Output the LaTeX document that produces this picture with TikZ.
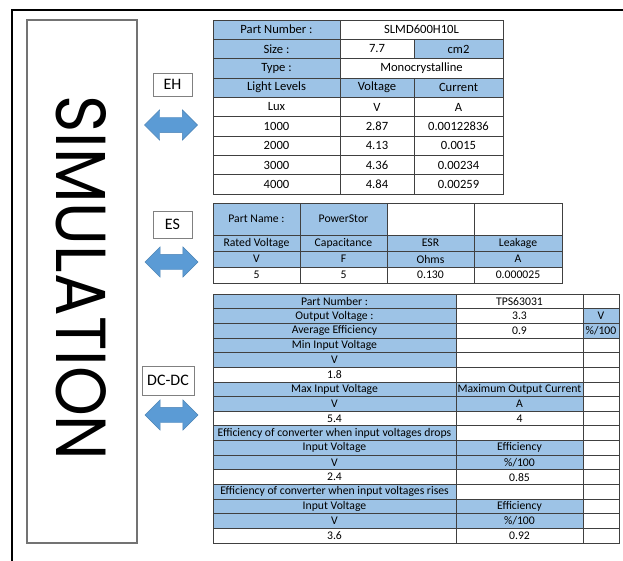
\documentclass[tikz,border=0pt]{standalone}
\usepackage{fontspec}
\setmainfont{Carlito}
\newfontfamily\simfont{Poppins}
\usepackage{graphicx}
\usetikzlibrary{shapes.arrows}
\definecolor{cellblue}{HTML}{9DC3E6}
\definecolor{arrowblue}{HTML}{5B9BD5}
\def\cellfont{11.7}
\tikzset{
  cell/.style={draw=black!75,line width=0.8pt,inner sep=0pt,outer sep=0pt,
               font=\fontsize{\cellfont}{12}\selectfont},
  tag/.style={draw=black!50,line width=0.8pt,fill=white,inner sep=0pt,
              font=\fontsize{16}{18}\selectfont},
  dblarrow/.style={double arrow,fill=arrowblue,draw=arrowblue!85!black,line width=0.4pt,
              minimum height=53pt,minimum width=30pt,double arrow head extend=7.5pt,
              inner xsep=0pt,inner ysep=7.5pt}
}
% one table cell: name, left x, right x, row, fill, text
\newcommand{\tcell}[6]{%
  \node[cell,fill=#5,minimum width={(#3-#2)*1pt},minimum height={\rowh*1pt}]
    (#1) at ({(#2+#3)/2},{\rowtop+(#4-0.5)*\rowh}) {#6};}

\begin{document}
\begin{tikzpicture}[x=1pt,y=-1pt]
    \useasboundingbox (0,0) rectangle (623,561);
    \draw[line width=2.5pt] (12,561) -- (12,10) -- (623,10);
    % simulation block
    \node[draw=black!55,line width=1.2pt,minimum width=110pt,minimum height=523pt,inner sep=0pt] (simbox) at (82,281.5) {};
    \node[rotate=-90,inner sep=0pt] (simtext) at (81,278) {\simfont\resizebox{365pt}{50pt}{SIMULATION}};
    % tags and arrows
    \node[tag,minimum width=39pt,minimum height=23pt] (eh) at (172.5,84.5) {EH};
    \node[tag,minimum width=39pt,minimum height=27pt] (es) at (172.5,224.5) {ES};
    \node[tag,minimum width=52pt,minimum height=29pt] (dcdc) at (168,380.5) {DC-DC};
    \node[dblarrow] (eharrow) at (171,125) {};
    \node[dblarrow] (esarrow) at (171.5,262) {};
    \node[dblarrow] (dcarrow) at (171.5,415) {};
    % EH table
    \def\rowtop{20}\def\rowh{19.33}\def\cellfont{12.6}
    \tcell{eh-a1}{213}{340}{1}{cellblue}{Part Number :}
    \tcell{eh-b1}{340}{503}{1}{white}{SLMD600H10L}
    \tcell{eh-a2}{213}{340}{2}{cellblue}{Size :}
    \tcell{eh-b2}{340}{414}{2}{white}{7.7}
    \tcell{eh-c2}{414}{503}{2}{cellblue}{cm2}
    \tcell{eh-a3}{213}{340}{3}{cellblue}{Type :}
    \tcell{eh-b3}{340}{503}{3}{white}{Monocrystalline}
    \foreach \r/\f/\a/\b/\c in {4/cellblue/Light Levels/Voltage/Current,
        5/white/Lux/V/A, 6/white/1000/2.87/0.00122836, 7/white/2000/4.13/0.0015,
        8/white/3000/4.36/0.00234, 9/white/4000/4.84/0.00259} {
      \tcell{eh-a\r}{213}{340}{\r}{\f}{\a}
      \tcell{eh-b\r}{340}{414}{\r}{\f}{\b}
      \tcell{eh-c\r}{414}{503}{\r}{\f}{\c}
    }
    % ES table
    \def\rowtop{203}\def\rowh{32}\def\cellfont{11.7}
    \tcell{es-a1}{213}{300}{1}{cellblue}{Part Name :}
    \tcell{es-b1}{300}{387}{1}{cellblue}{PowerStor}
    \tcell{es-c1}{387}{474}{1}{white}{}
    \tcell{es-d1}{474}{562}{1}{white}{}
    \def\rowtop{235}\def\rowh{16}
    \foreach \r/\f/\a/\b/\c/\d in {1/cellblue/Rated Voltage/Capacitance/ESR/Leakage,
        2/cellblue/V/F/Ohms/A, 3/white/5/5/0.130/0.000025} {
      \tcell{es-a\r}{213}{300}{\r}{\f}{\a}
      \tcell{es-b\r}{300}{387}{\r}{\f}{\b}
      \tcell{es-c\r}{387}{474}{\r}{\f}{\c}
      \tcell{es-d\r}{474}{562}{\r}{\f}{\d}
    }
    % DC-DC table
    \def\rowtop{294}\def\rowh{14.65}
    \foreach \r/\fa/\a/\fb/\b/\fc/\c in {
        1/cellblue/Part Number :/white/TPS63031/white/{},
        2/cellblue/Output Voltage :/white/3.3/cellblue/V,
        3/cellblue/Average Efficiency/white/0.9/cellblue/{\%/100},
        4/cellblue/Min Input Voltage/white/{}/white/{},
        5/cellblue/V/white/{}/white/{},
        6/white/1.8/white/{}/white/{},
        7/cellblue/Max Input Voltage/cellblue/Maximum Output Current/white/{},
        8/cellblue/V/cellblue/A/white/{},
        9/white/5.4/white/4/white/{},
        10/cellblue/Efficiency of converter when input voltages drops/white/{}/white/{},
        11/cellblue/Input Voltage/cellblue/Efficiency/white/{},
        12/cellblue/V/cellblue/{\%/100}/white/{},
        13/white/2.4/white/0.85/white/{},
        14/cellblue/Efficiency of converter when input voltages rises/white/{}/white/{},
        15/cellblue/Input Voltage/cellblue/Efficiency/white/{},
        16/cellblue/V/cellblue/{\%/100}/white/{},
        17/white/3.6/white/0.92/white/{}} {
      \tcell{dc-a\r}{213}{456}{\r}{\fa}{\a}
      \tcell{dc-b\r}{456}{583}{\r}{\fb}{\b}
      \tcell{dc-c\r}{583}{619}{\r}{\fc}{\c}
    }
\end{tikzpicture}
\end{document}
